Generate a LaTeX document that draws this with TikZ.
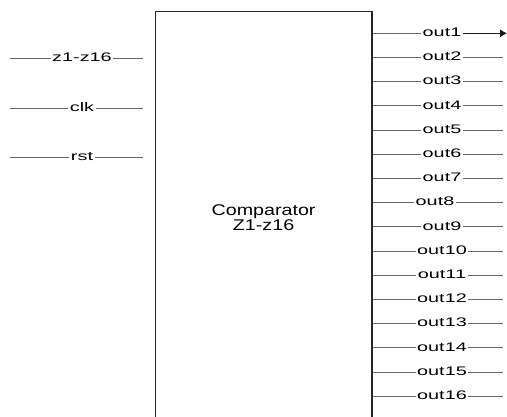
\documentclass[tikz,border=0pt]{standalone}
\usepackage{fontspec}
\setmainfont{Liberation Sans}
\usetikzlibrary{positioning,arrows.meta}

\begin{document}
\begin{tikzpicture}[
    x=1pt,y=-1pt,
    wire/.style={line width=0.8pt,black!60},
    block/.style={draw=black!85,line width=1.2pt,minimum width=216.6pt,minimum height=412pt,anchor=north west,inner sep=0pt},
    port/.style={font=\fontsize{12.4}{14}\selectfont,xscale=1.6,inner sep=0.8pt,anchor=base,yshift=-3.3pt},
    title/.style={font=\fontsize{15.5}{13.2}\selectfont,xscale=1.27,align=center}
]
\useasboundingbox (0,0) rectangle (507,417);

\node[block] (cmp) at (154.7,10.7) {};
\node[title] (cmpname) at (cmp.center) {Comparator\\Z1-z16};

% inputs
\foreach \lab [count=\k] in {z1-z16,clk,rst} {
    \pgfmathsetmacro{\yy}{58.3+49.7*(\k-1)}
    \coordinate (in\k start) at (10,\yy);
    \coordinate (in\k end) at (143,\yy);
    \node[port] (in\k) at (82,\yy) {\lab};
    \draw[wire] (in\k start) -- (in\k.west |- in\k start) (in\k.east |- in\k end) -- (in\k end);
}

% outputs
\foreach \k in {1,...,16} {
    \pgfmathsetmacro{\yy}{33.3+24.2*(\k-1)}
    \pgfmathsetmacro{\xx}{\k==8 ? 435 : 442}
    \coordinate (out\k end) at (503,\yy);
    \node[port] (out\k) at (\xx,\yy) {out\k};
    \draw[wire] (cmp.east |- out\k end) -- (out\k.west |- out\k end);
}
\foreach \k in {2,...,16} {
    \draw[wire] (out\k.east |- out\k end) -- (out\k end);
}
\coordinate (out1 tip) at (507,33.3);
\draw[wire,black!90,-{Latex[length=7pt,width=8pt]}] (out1.east |- out1 tip) -- (out1 tip);

\end{tikzpicture}
\end{document}
